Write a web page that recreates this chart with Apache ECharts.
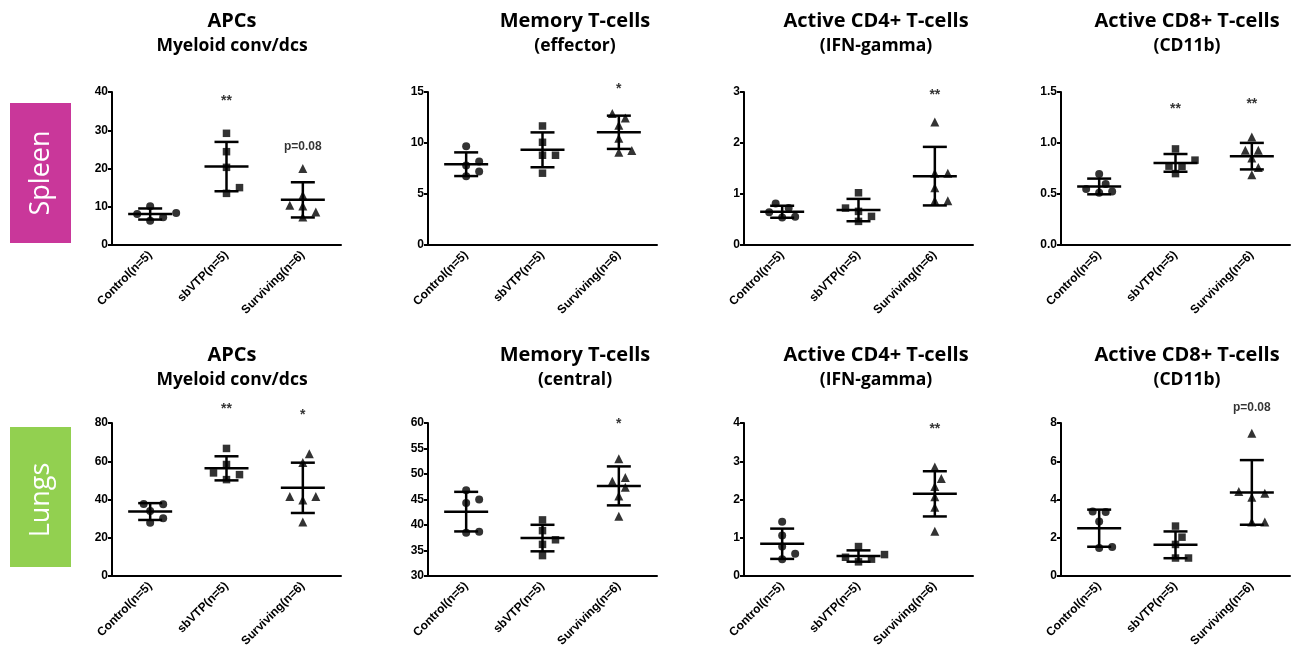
<!DOCTYPE html>
<html>
<head>
<meta charset="utf-8">
<script src="https://cdn.jsdelivr.net/npm/echarts@6/dist/echarts.min.js"></script>
<style>html,body{margin:0;padding:0;background:#fff}#main{width:1296px;height:656px}</style>
</head>
<body>
<div id="main"></div>
<script>
var groups = ['Control(n=5)', 'sbVTP(n=5)', 'Surviving(n=6)'];
var titles = ['APCs', 'Memory T-cells', 'Active CD4+ T-cells', 'Active CD8+ T-cells',
              'APCs', 'Memory T-cells', 'Active CD4+ T-cells', 'Active CD8+ T-cells'];
var subtitles = ['Myeloid conv/dcs', '(effector)', '(IFN-gamma)', '(CD11b)',
                 'Myeloid conv/dcs', '(central)', '(IFN-gamma)', '(CD11b)'];

// individual animals: [control, sbVTP, surviving]
var spleenApc = [[10.15, 8.12, 8.39, 7.24, 6.36], [29.2, 24.4, 20.3, 15.0, 13.5], [20.0, 13.0, 10.4, 10.2, 8.65, 7.3]];
var spleenMem = [[9.68, 8.18, 7.79, 7.2, 6.75], [11.67, 10.07, 8.8, 8.8, 7.04], [12.88, 12.46, 11.74, 10.47, 9.26, 9.1]];
var spleenCd4 = [[0.815, 0.64, 0.724, 0.54, 0.554], [1.024, 0.724, 0.659, 0.561, 0.463], [2.413, 1.409, 1.409, 1.122, 0.867, 0.867]];
var spleenCd8 = [[0.695, 0.548, 0.597, 0.512, 0.525], [0.942, 0.832, 0.773, 0.77, 0.70], [1.06, 0.929, 0.929, 0.854, 0.76, 0.688]];
var lungApc = [[37.5, 37.7, 34.0, 30.2, 27.9], [66.7, 58.3, 53.9, 53.0, 50.4], [63.9, 59.3, 41.6, 41.6, 39.8, 28.3]];
var lungMem = [[46.8, 45.0, 44.3, 38.5, 38.7], [41.0, 38.9, 37.1, 36.2, 34.0], [53.0, 48.6, 49.3, 47.4, 45.7, 41.7]];
var lungCd4 = [[1.42, 1.06, 0.77, 0.58, 0.44], [0.77, 0.56, 0.49, 0.44, 0.37], [2.85, 2.55, 2.34, 2.07, 1.80, 1.17]];
var lungCd8 = [[3.34, 3.37, 2.85, 1.46, 1.51], [2.61, 2.03, 1.65, 0.94, 0.94], [7.46, 4.33, 4.42, 4.12, 2.82, 2.82]];

// mean and SD as drawn
var means = [[8.1, 20.5, 11.8], [7.92, 9.33, 11.05], [0.652, 0.685, 1.35], [0.574, 0.805, 0.871],
             [33.7, 56.3, 46.1], [42.62, 37.44, 47.67], [0.843, 0.522, 2.148], [2.5, 1.63, 4.37]];
var sds = [[1.45, 6.45, 4.6], [1.16, 1.71, 1.63], [0.118, 0.219, 0.574], [0.077, 0.087, 0.13],
           [4.4, 6.3, 13.15], [3.88, 2.6, 3.82], [0.396, 0.148, 0.591], [0.97, 0.7, 1.69]];

// significance marks and the level they sit at
var marks = [['', '**', 'p=0.08'], ['', '', '*'], ['', '', '**'], ['', '**', '**'],
             ['', '**', '*'], ['', '', '*'], ['', '', '**'], ['', '', 'p=0.08']];
var markLevel = [[0, 37.5, 25.6], [0, 0, 15.3], [0, 0, 2.93], [0, 1.33, 1.38],
                 [0, 87.5, 84], [0, 0, 59.7], [0, 0, 3.85], [0, 0, 8.78]];

var yMin = [0, 0, 0, 0, 0, 30, 0, 0];
var yMax = [40, 15, 3, 1.5, 80, 60, 4, 8];
var yStep = [10, 5, 1, 0.5, 20, 5, 1, 2];

var panels = [spleenApc, spleenMem, spleenCd4, spleenCd8, lungApc, lungMem, lungCd4, lungCd8];
var symbols = ['circle', 'rect', 'triangle'];
var symSizes = [8, 7.5, 9];

var gridLeft = [112, 428, 744, 1061];
var gridTop = [92, 423];
var gridW = 229, gridH = 153;
var titleX = [227, 570, 871, 1182];

// simple beeswarm so points with close values spread sideways
function swarm(vals, pxPerUnit) {
    var order = vals.map(function (v, i) { return i; }).sort(function (a, b) { return vals[a] - vals[b]; });
    var placed = [], offs = [];
    order.forEach(function (i) {
        var y = vals[i] * pxPerUnit;
        for (var k = 0; k < 20; k++) {
            var dx = (k % 2 === 1 ? 1 : -1) * Math.ceil(k / 2) * 6.5;
            var ok = placed.every(function (p) {
                return Math.sqrt((p[0] - dx) * (p[0] - dx) + (p[1] - y) * (p[1] - y)) >= 9.5;
            });
            if (ok) break;
        }
        placed.push([dx, y]);
        offs[i] = dx;
    });
    return offs;
}

var font = '"Liberation Sans", Arial, sans-serif';
var black = '#000';
var grids = [], xAxes = [], yAxes = [], series = [], titleList = [];

panels.forEach(function (panel, p) {
    var col = p % 4, row = Math.floor(p / 4);
    grids.push({left: gridLeft[col], top: gridTop[row], width: gridW, height: gridH});
    titleList.push({
        text: titles[p], subtext: subtitles[p],
        left: titleX[col], top: row === 0 ? 6 : 340, textAlign: 'center', itemGap: 6,
        textStyle: {fontFamily: '"Open Sans", sans-serif', fontWeight: 'bold', fontSize: 20, color: black},
        subtextStyle: {fontFamily: '"Open Sans", sans-serif', fontWeight: 'bold', fontSize: 17.5, color: black}
    });
    xAxes.push({
        type: 'category', gridIndex: p, data: groups,
        axisLine: {lineStyle: {color: black, width: 2}},
        axisTick: {alignWithLabel: true, length: 5, lineStyle: {color: black, width: 2}},
        axisLabel: {rotate: 45, interval: 0, color: black, fontWeight: 'bold', fontSize: 12, fontFamily: font, margin: 8}
    });
    yAxes.push({
        type: 'value', gridIndex: p, min: yMin[p], max: yMax[p], interval: yStep[p],
        axisLine: {show: true, lineStyle: {color: black, width: 2}},
        axisTick: {show: true, length: 4, lineStyle: {color: black, width: 2}},
        splitLine: {show: false},
        axisLabel: {
            color: black, fontWeight: 'bold', fontSize: 12, fontFamily: font, margin: 4,
            formatter: function (v) { return yStep[p] < 1 ? v.toFixed(1) : String(v); }
        }
    });

    var pxPerUnit = gridH / (yMax[p] - yMin[p]);
    panel.forEach(function (vals, g) {
        var offs = swarm(vals, pxPerUnit);
        series.push({
            type: 'scatter', xAxisIndex: p, yAxisIndex: p,
            symbol: symbols[g], symbolSize: symSizes[g],
            itemStyle: {color: black}, silent: true, z: 4,
            data: vals.map(function (v, i) {
                return {value: [g, v], symbolOffset: [offs[i], 0]};
            })
        });
    });

    series.push({
        type: 'custom', xAxisIndex: p, yAxisIndex: p, silent: true, z: 3,
        data: means[p].map(function (m, g) { return [g, m, sds[p][g]]; }),
        renderItem: function (params, api) {
            var g = api.value(0), m = api.value(1), s = api.value(2);
            var c = api.coord([g, m]);
            var hi = api.coord([g, m + s]);
            var lo = api.coord([g, m - s]);
            var st = {stroke: black, lineWidth: 2.5};
            return {type: 'group', children: [
                {type: 'line', shape: {x1: c[0] - 22, y1: c[1], x2: c[0] + 22, y2: c[1]}, style: st},
                {type: 'line', shape: {x1: c[0], y1: hi[1], x2: c[0], y2: lo[1]}, style: st},
                {type: 'line', shape: {x1: c[0] - 12, y1: hi[1], x2: c[0] + 12, y2: hi[1]}, style: st},
                {type: 'line', shape: {x1: c[0] - 12, y1: lo[1], x2: c[0] + 12, y2: lo[1]}, style: st}
            ]};
        }
    });

    var markData = [];
    marks[p].forEach(function (t, g) {
        if (t) markData.push({value: [g, markLevel[p][g]], label: {formatter: t, fontSize: t.length > 2 ? 12 : 14}});
    });
    series.push({
        type: 'scatter', xAxisIndex: p, yAxisIndex: p, clip: false, silent: true,
        symbolSize: 1, itemStyle: {color: 'rgba(0,0,0,0)'},
        label: {show: true, position: 'inside', color: black, fontWeight: 'bold', fontFamily: font},
        data: markData
    });
});

var myChart = echarts.init(document.getElementById('main'));
var option = {
    backgroundColor: '#fff',
    animation: false,
    title: titleList,
    grid: grids,
    xAxis: xAxes,
    yAxis: yAxes,
    series: series,
    graphic: [
        {type: 'rect', shape: {x: 10, y: 103, width: 61, height: 140}, style: {fill: '#C9379A'}},
        {type: 'text', x: 41, y: 173, rotation: Math.PI / 2,
         style: {text: 'Spleen', fill: '#fff', font: '27px "Open Sans", sans-serif', align: 'center', verticalAlign: 'middle'}},
        {type: 'rect', shape: {x: 10, y: 427, width: 61, height: 140}, style: {fill: '#92D050'}},
        {type: 'text', x: 41, y: 500, rotation: Math.PI / 2,
         style: {text: 'Lungs', fill: '#fff', font: '27px "Open Sans", sans-serif', align: 'center', verticalAlign: 'middle'}}
    ]
};
myChart.setOption(option);
</script>
</body>
</html>
